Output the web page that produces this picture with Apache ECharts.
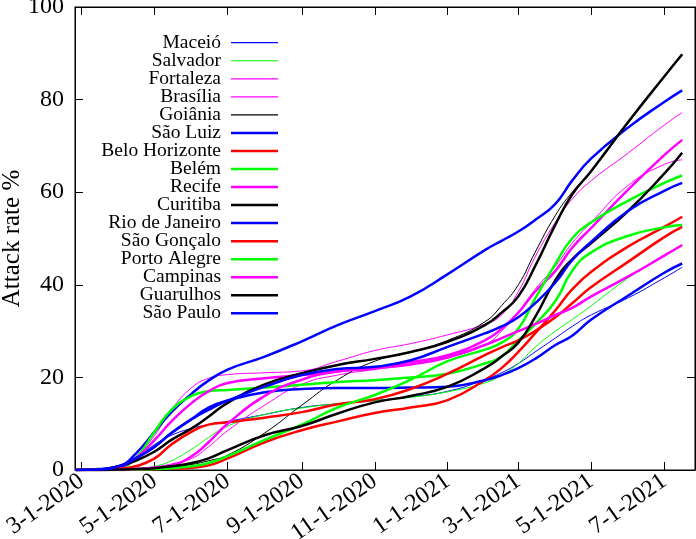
<!DOCTYPE html>
<html>
<head>
<meta charset="utf-8">
<script src="https://cdn.jsdelivr.net/npm/echarts@6/dist/echarts.min.js"></script>
<style>html,body{margin:0;padding:0;background:#fff}#c{width:696px;height:539px}</style>
</head>
<body>
<div id="c"></div>
<script>
const dates = ['2020-02-25','2020-03-15','2020-04-01','2020-04-15','2020-05-01','2020-05-15','2020-06-01','2020-06-15','2020-07-01','2020-08-01','2020-09-01','2020-10-01','2020-11-01','2020-12-01','2021-01-01','2021-02-01','2021-02-15','2021-03-01','2021-03-15','2021-04-01','2021-04-15','2021-05-01','2021-06-01','2021-07-01','2021-07-16'];

const maceio        = [0,0.1,0.6,2.5,5.5,7.5,9,9.8,10.5,12,13.5,14.3,15,15.8,17,19.5,21,23,25.5,28.5,31,33.5,37.2,41.5,43.8];
const salvador      = [0,0,0.1,0.3,0.8,2,4.5,7,9.5,12,13.4,14.3,15,15.7,16.9,18.8,20.5,23,26.5,30,32.5,35.5,41.5,46.3,48.5];
const fortaleza     = [0,0.1,0.6,2.8,7.5,13,17.8,19.8,20.6,21,21.4,23.5,25.8,27.3,29.2,31.5,33.5,38.5,46,53.5,58.5,62.5,68.5,74.5,77.2];
const brasilia      = [0,0,0.1,0.3,0.7,1.3,2.5,5,8.5,14,18.5,20.5,21.7,22.8,24.3,27,30,34,39,44,49,53.5,61.5,66,67];
const goiania       = [0,0,0.1,0.2,0.4,0.7,1.2,2,3.2,8,14,19.5,23.5,25.5,28,32,35.5,40,47,55,60,64.5,75,85,89.5];
const saoLuiz       = [0,0.2,0.8,3.5,8.3,12.5,16.5,19.3,21.7,24.5,27.8,31.3,34.3,37.5,42.3,47.5,49.5,51.5,54,57.5,62.5,67.3,74,79.5,82];
const beloHorizonte = [0,0,0,0.1,0.2,0.3,0.5,1,2.5,6,8.6,10.5,12.3,13.5,15.1,19.4,22,25.5,29.5,34.5,39,42.8,48.3,52.5,54.7];
const belem         = [0,0.1,0.5,2.5,8.3,13,16,17,17.3,17.8,18.4,19,19.4,20,20.8,23,24.5,28,31.5,36.5,43,47,50.6,52.4,52.9];
const recife        = [0,0.1,0.6,2.5,6.5,10.5,14.5,17,18.8,19.8,20.5,21.3,22,23.3,24.8,28,30.5,34,38.5,43,48,52.3,60.6,68,71.3];
const curitiba      = [0,0.1,0.8,2,4,6.5,9,11.5,14.5,18.5,20.9,22.7,24,25.5,27.7,31.3,34,37.5,44,53,59.5,64.6,75.2,85,89.8];
const rioDeJaneiro  = [0,0.1,0.7,2.5,5,8,11,13.5,15,16.8,17.5,17.7,17.7,17.8,18,19.4,20.5,22,24,27,29,32.5,37.7,42.6,44.6];
const saoGoncalo    = [0,0,0.3,0.8,2.5,5.5,8.3,9.8,10.3,11.3,12.5,14.2,15.3,17.5,20.8,24.8,26.5,28,30,33,36,39.5,45,50.3,52.5];
const portoAlegre   = [0,0,0,0.1,0.2,0.4,0.8,1.5,3,6.5,9.8,13.5,16.2,19.5,23.5,26,27.5,30.5,37,44.5,50,53.5,58.2,62,63.6];
const campinas      = [0,0,0.1,0.2,0.5,1,3,6,10,16,19.5,21.3,22,22.8,24.3,27,28.5,30,31.5,33.5,35,37.5,41.8,46.3,48.6];
const guarulhos     = [0,0,0.1,0.2,0.4,0.8,1.5,2.5,4.3,7.5,9.5,12.2,14.6,16,18,22,24.5,27.5,33,41,45.5,49,56,64,68.5];
const saoPaulo      = [0,0.1,0.8,2.5,5,8,11,13,15,18,20.5,21.8,22.3,23.7,26.6,29.5,31,33,36,40.5,45.3,49.3,56,60.3,62];

const cityNames = ['Maceió','Salvador','Fortaleza','Brasília','Goiânia','São Luiz','Belo Horizonte','Belém','Recife','Curitiba','Rio de Janeiro','São Gonçalo','Porto Alegre','Campinas','Guarulhos','São Paulo'];
const cityValues = [maceio,salvador,fortaleza,brasilia,goiania,saoLuiz,beloHorizonte,belem,recife,curitiba,rioDeJaneiro,saoGoncalo,portoAlegre,campinas,guarulhos,saoPaulo];

const xTickDates = ['2020-03-01','2020-05-01','2020-07-01','2020-09-01','2020-11-01','2021-01-01','2021-03-01','2021-05-01','2021-07-01'];
const xTickLabels = ['3-1-2020','5-1-2020','7-1-2020','9-1-2020','11-1-2020','1-1-2021','3-1-2021','5-1-2021','7-1-2021'];
const yTicks = [0,20,40,60,80,100];

const colors = ['#0000ff','#00ff00','#ff00ff','#ff00ff','#000000','#0000ff','#ff0000','#00ff00','#ff00ff','#000000','#0000ff','#ff0000','#00ff00','#ff00ff','#000000','#0000ff'];
const widths = [1,1,1,1,1,2.5,2.5,2.5,2.5,2.5,2.5,2.5,2.5,2.5,2.5,2.5];

// x is expressed as days since 2020-03-01
function dayNum(s){ const p=s.split('-').map(Number); return Math.round((Date.UTC(p[0],p[1]-1,p[2]) - Date.UTC(2020,2,1))/86400000); }
const xMin = -5.6;
const xMax = dayNum('2021-07-01') + 25.7;
const tickDays = xTickDates.map(dayNum);

const FONT = 'Liberation Serif';

const series = cityNames.map((n,i)=>({
  name:n, type:'line', showSymbol:false, symbol:'none',
  smooth:0.5,
  lineStyle:{color:colors[i], width:widths[i]},
  itemStyle:{color:colors[i]},
  data: dates.map((d,k)=>[dayNum(d), cityValues[i][k]]),
  animation:false, z: 2+i
}));

const legends = cityNames.map((n,i)=>({
  data:[n], orient:'vertical', right:418, top: 41.7 + 18.04*i - 9,
  padding:0, align:'right', itemWidth:47, itemHeight:widths[i]<2?1.2:2.5,
  icon:'rect', selectedMode:false,
  textStyle:{fontFamily:FONT, fontSize:19.5, color:'#000', lineHeight:18, padding:[0,5,0,0]}
}));

const tickStyle = {show:true, inside:true, length:8, lineStyle:{color:'#000', width:1}};

const chart = echarts.init(document.getElementById('c'), null, {renderer:'canvas'});
chart.setOption({
  animation:false,
  backgroundColor:'#fff',
  grid:{left:75, right:1, top:7, bottom:69, show:true, borderColor:'#000', borderWidth:1, backgroundColor:'transparent', outerBoundsMode:'none', containLabel:false},
  legend: legends,
  xAxis:[{
    type:'value', min:xMin, max:xMax, position:'bottom',
    axisLine:{show:true, onZero:false, lineStyle:{color:'#000', width:1}},
    axisTick:Object.assign({}, tickStyle, {customValues:tickDays}),
    axisLabel:{customValues:tickDays, rotate:35, margin:9, fontFamily:FONT, fontSize:24, color:'#000',
      formatter:(v)=>{ const k=tickDays.indexOf(Math.round(v)); return k>=0?xTickLabels[k]:''; }},
    splitLine:{show:false}, minorTick:{show:false}
  },{
    type:'value', min:xMin, max:xMax, position:'top',
    axisLine:{show:true, onZero:false, lineStyle:{color:'#000', width:1}},
    axisTick:Object.assign({}, tickStyle, {customValues:tickDays}),
    axisLabel:{show:false, customValues:tickDays},
    splitLine:{show:false}
  }],
  yAxis:[{
    type:'value', min:0, max:100, interval:20, position:'left',
    name:'Attack rate %', nameLocation:'middle', nameGap:50, nameRotate:90, nameMoveOverlap:false,
    nameTextStyle:{fontFamily:FONT, fontSize:25, color:'#000'},
    axisLine:{show:true, onZero:false, lineStyle:{color:'#000', width:1}},
    axisTick:tickStyle,
    axisLabel:{margin:11, fontFamily:FONT, fontSize:24, color:'#000', formatter:(v)=>String(v)},
    splitLine:{show:false}
  },{
    type:'value', min:0, max:100, interval:20, position:'right',
    axisLine:{show:true, onZero:false, lineStyle:{color:'#000', width:1}},
    axisTick:tickStyle, axisLabel:{show:false}, splitLine:{show:false}
  }],
  series: series
});
</script>
</body>
</html>
